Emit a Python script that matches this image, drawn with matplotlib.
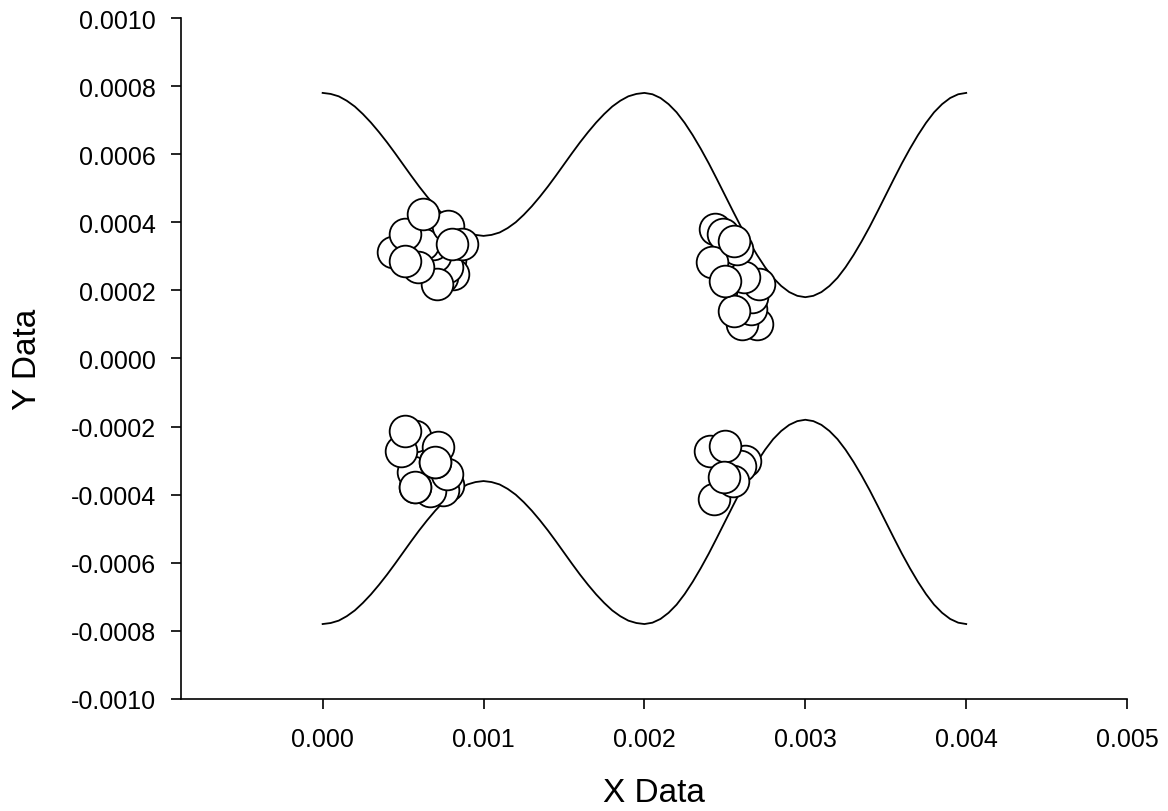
import matplotlib
matplotlib.use("Agg")
import matplotlib.pyplot as plt
import numpy as np

plt.rcParams['font.family'] = ['Liberation Sans', 'DejaVu Sans']

# curves, sampled every 0.00005 along x (values in 1e-4 units)
curve_x = [i * 0.00005 for i in range(81)]
upper_curve = [7.80, 7.77, 7.70, 7.57, 7.40, 7.18, 6.93, 6.65, 6.35, 6.03, 5.70,
               5.37, 5.05, 4.75, 4.47, 4.22, 4.00, 3.83, 3.70, 3.63, 3.60,
               3.63, 3.70, 3.83, 4.00, 4.22, 4.47, 4.75, 5.05, 5.37, 5.70,
               6.03, 6.35, 6.65, 6.93, 7.18, 7.40, 7.57, 7.70, 7.77, 7.80,
               7.76, 7.65, 7.47, 7.23, 6.92, 6.56, 6.16, 5.73, 5.27, 4.80,
               4.33, 3.87, 3.44, 3.04, 2.68, 2.37, 2.13, 1.95, 1.84, 1.80,
               1.84, 1.95, 2.13, 2.37, 2.68, 3.04, 3.44, 3.87, 4.33, 4.80,
               5.27, 5.73, 6.16, 6.56, 6.92, 7.23, 7.47, 7.65, 7.76, 7.80]
lower_curve = [-v for v in upper_curve]

# scatter points
top_left_x = [0.000793, 0.000811, 0.000739, 0.000770, 0.000697, 0.000685, 0.000646,
              0.000625, 0.000780, 0.000864, 0.000801, 0.000708, 0.000593, 0.000438,
              0.000510, 0.000510, 0.000625]
top_left_y = [0.000290, 0.000248, 0.000238, 0.000268, 0.000302, 0.000336, 0.000361,
              0.000336, 0.000390, 0.000336, 0.000336, 0.000219, 0.000268, 0.000312,
              0.000366, 0.000287, 0.000424]

top_right_x = [0.002700, 0.002607, 0.002660, 0.002670, 0.002555, 0.002710, 0.002617,
               0.002576, 0.002440, 0.002490, 0.002420, 0.002500, 0.002555]
top_right_y = [0.000101, 0.000101, 0.000145, 0.000180, 0.000140, 0.000219, 0.000238,
               0.000322, 0.000380, 0.000366, 0.000283, 0.000228, 0.000346]

bottom_left_x = [0.000780, 0.000750, 0.000666, 0.000573, 0.000770, 0.000560, 0.000697,
                 0.000573, 0.000718, 0.000490, 0.000510, 0.000573, 0.000697]
bottom_left_y = [-0.000372, -0.000385, -0.000388, -0.000378, -0.000339, -0.000333, -0.000305,
                 -0.000227, -0.000261, -0.000271, -0.000212, -0.000378, -0.000305]

bottom_right_x = [0.002430, 0.002628, 0.002597, 0.002410, 0.002500, 0.002550, 0.002493]
bottom_right_y = [-0.000413, -0.000300, -0.000315, -0.000271, -0.000256, -0.000359, -0.000349]

fig = plt.figure(figsize=(11.68, 8.12), dpi=100)
ax = fig.add_axes([0.155, 0.138, 0.81, 0.8386])

ax.plot(curve_x, np.array(upper_curve) * 1e-4, color='black', lw=1.3, zorder=2)
ax.plot(curve_x, np.array(lower_curve) * 1e-4, color='black', lw=1.3, zorder=2)

for xs, ys in [(top_left_x, top_left_y), (top_right_x, top_right_y),
               (bottom_left_x, bottom_left_y), (bottom_right_x, bottom_right_y)]:
    ax.scatter(xs, ys, s=520, facecolor='white', edgecolor='black', linewidth=1.3, zorder=3)

ax.set_xlim(-0.00088, 0.005)
ax.set_ylim(-0.001, 0.001)
ax.set_xticks([0.000, 0.001, 0.002, 0.003, 0.004, 0.005])
ax.set_xticklabels(['0.000', '0.001', '0.002', '0.003', '0.004', '0.005'])
yticks = np.arange(-0.0010, 0.00101, 0.0002)
ax.set_yticks(yticks)
ax.set_yticklabels([f"{v:.4f}" if abs(v) > 1e-9 else "0.0000" for v in yticks])

ax.spines['top'].set_visible(False)
ax.spines['right'].set_visible(False)
ax.spines['left'].set_linewidth(1.2)
ax.spines['bottom'].set_linewidth(1.2)
ax.tick_params(axis='both', direction='out', length=7, width=1.2, labelsize=18)
ax.tick_params(axis='x', pad=13)
ax.tick_params(axis='y', pad=11)

ax.set_xlabel('X Data', fontsize=24, labelpad=19)
ax.set_ylabel('Y Data', fontsize=24, labelpad=20)

fig.savefig('out.png', dpi=100)
